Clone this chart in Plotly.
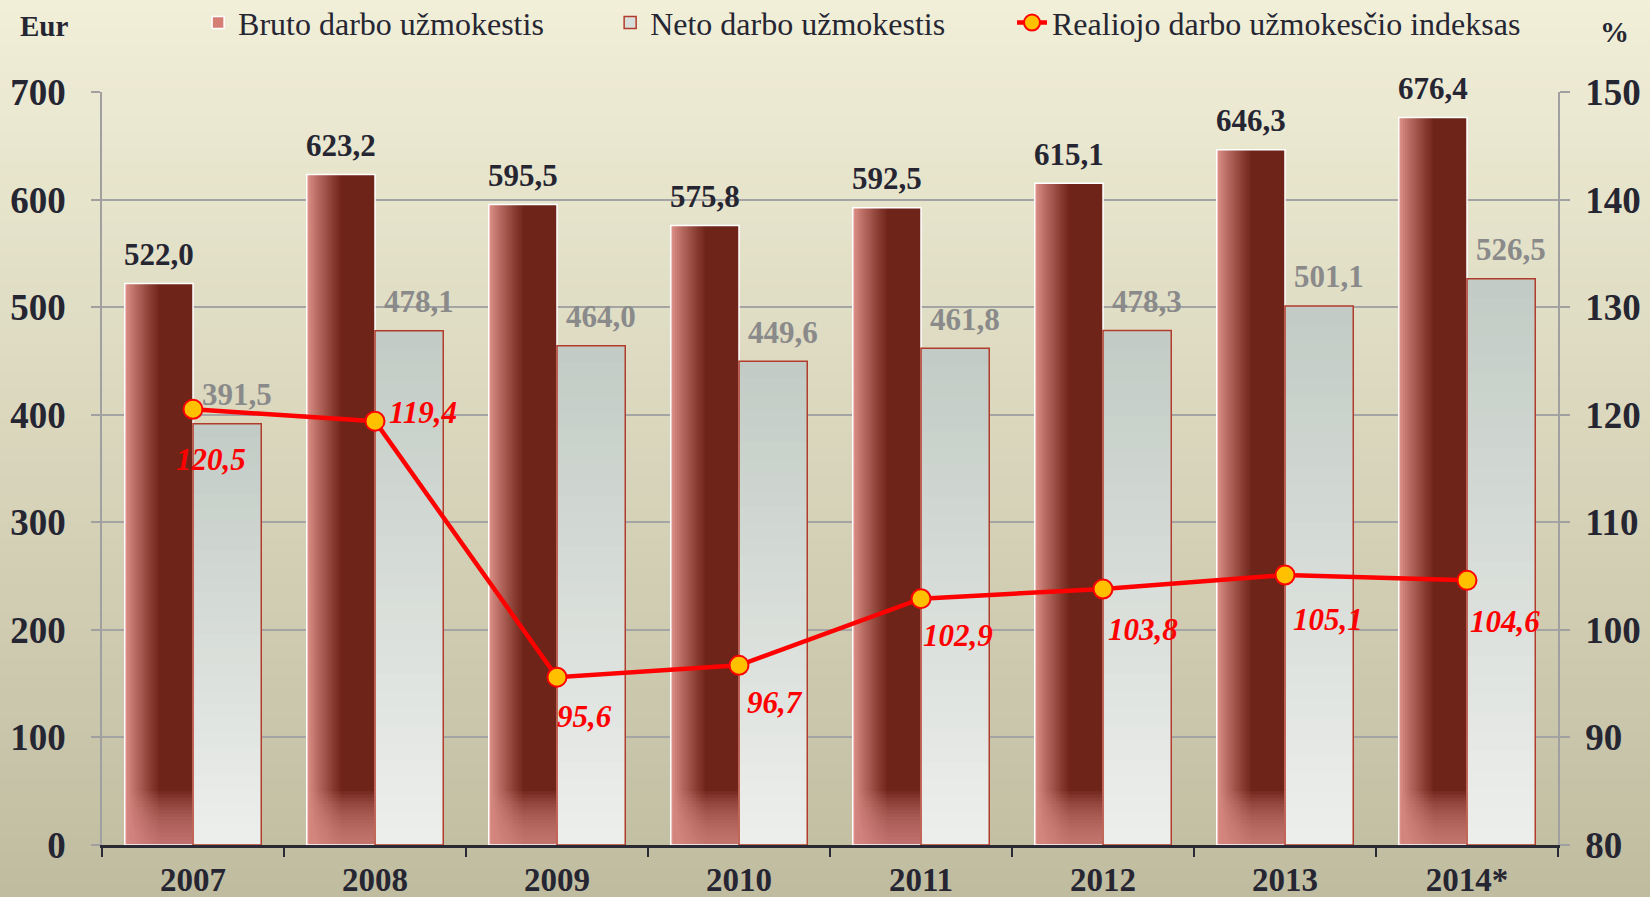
import plotly.graph_objects as go
import numpy as np

# ---------------- data ----------------
years = ['2007', '2008', '2009', '2010', '2011', '2012', '2013', '2014*']
bruto = [522.0, 623.2, 595.5, 575.8, 592.5, 615.1, 646.3, 676.4]
neto = [391.5, 478.1, 464.0, 449.6, 461.8, 478.3, 501.1, 526.5]
index_real = [120.5, 119.4, 95.6, 96.7, 102.9, 103.8, 105.1, 104.6]
left_ticks = [0, 100, 200, 300, 400, 500, 600, 700]
right_ticks = [80, 90, 100, 110, 120, 130, 140, 150]

series_names = ['Bruto darbo užmokestis', 'Neto darbo užmokestis',
                'Realiojo darbo užmokesčio indeksas']

# label offsets for the index labels (pixels, style only)
idx_label_dx = [18, 48, 27, 36, 37, 40, 43, 38]
idx_label_dy = [-50, 9, -39, -37, -37, -41, -44, -41]


def fmt(v):
    return f"{v:.1f}".replace('.', ',')


def hex2rgb(h):
    h = h.lstrip('#')
    return np.array([int(h[i:i + 2], 16) for i in (0, 2, 4)], dtype=float)


def lerp(c1, c2, t):
    a, b = hex2rgb(c1), hex2rgb(c2)
    c = a + (b - a) * t
    return 'rgb(%d,%d,%d)' % tuple(np.round(c))


FONT = 'Liberation Serif'
DARK = '#262633'
PINK = '#DE9088'
BROWN = '#6E2418'
NETO_TOP = '#C2CBC5'
NETO_BOT = '#EDEFEC'
NETO_EDGE = '#B23C2C'
BW = 0.375

fig = go.Figure()

# ---- Bruto bars: horizontal gradient built from overlaid bars ----
fig.add_bar(x=years, y=bruto, offset=-BW, width=BW,
            marker=dict(color=PINK, line=dict(width=0)),
            showlegend=False, hoverinfo='skip')
N = 16
for i in range(1, N + 1):
    frac = i / N
    start = -BW + frac * 0.5 * BW
    fig.add_bar(x=years, y=bruto, offset=start, width=-start,
                marker=dict(color=lerp(PINK, BROWN, frac ** 0.85), line=dict(width=0)),
                showlegend=False, hoverinfo='skip')
# bottom fade
for h in range(50, 0, -3):
    fig.add_bar(x=years, y=[float(min(v, h)) for v in bruto], offset=-BW, width=BW,
                marker=dict(color=PINK, line=dict(width=0)), opacity=0.085,
                showlegend=False, hoverinfo='skip')
fig.add_bar(x=years, y=bruto, offset=-BW, width=BW,
            marker=dict(color='rgba(0,0,0,0)', line=dict(color='white', width=1.5)),
            showlegend=False, hoverinfo='skip')

# ---- Neto bars: vertical gradient ----
fig.add_bar(x=years, y=neto, offset=0, width=BW,
            marker=dict(color=NETO_TOP, line=dict(width=0)),
            showlegend=False, hoverinfo='skip')
NL = 30
for k in range(NL - 1, 0, -1):
    f = k / NL
    fig.add_bar(x=years, y=[v * f for v in neto], offset=0, width=BW,
                marker=dict(color=lerp(NETO_TOP, NETO_BOT, 1 - f + 0.5 / NL), line=dict(width=0)),
                showlegend=False, hoverinfo='skip')
fig.add_bar(x=years, y=neto, offset=0, width=BW,
            marker=dict(color='rgba(0,0,0,0)', line=dict(color=NETO_EDGE, width=1.5)),
            showlegend=False, hoverinfo='skip')

# ---- legend entries (no visible marks) ----
fig.add_bar(x=[years[0]], y=[None], name=series_names[0], legend='legend',
            marker=dict(color='#D47E74', line=dict(color='white', width=1.5)),
            hoverinfo='skip')
fig.add_bar(x=[years[0]], y=[None], name=series_names[1], legend='legend2',
            marker=dict(color='#D8DEDA', line=dict(color=NETO_EDGE, width=1.5)),
            hoverinfo='skip')

# ---- index line ----
fig.add_trace(go.Scatter(x=years, y=index_real, yaxis='y2', mode='lines+markers',
                         name=series_names[2], legend='legend3',
                         line=dict(color='#FF0000', width=4.5),
                         marker=dict(size=19, color='#FFC000',
                                     line=dict(color='#FF0000', width=2))))

annotations = []
for i, v in enumerate(bruto):
    annotations.append(dict(x=i, y=v, xref='x', yref='y', text=fmt(v), showarrow=False,
                            xshift=-34, yshift=29, yanchor='middle',
                            font=dict(family=FONT, size=31, color=DARK, weight='bold')))
for i, v in enumerate(neto):
    annotations.append(dict(x=i, y=v, xref='x', yref='y', text=fmt(v), showarrow=False,
                            xshift=44, yshift=29, yanchor='middle',
                            font=dict(family=FONT, size=31, color='#8A8A8A', weight='bold')))
for i, (v, dx, dy) in enumerate(zip(index_real, idx_label_dx, idx_label_dy)):
    annotations.append(dict(x=i, y=v, xref='x', yref='y2', text=fmt(v), showarrow=False,
                            xshift=dx, yshift=dy, yanchor='middle', xanchor='center',
                            font=dict(family=FONT, size=31, color='#FF0000',
                                      weight='bold', style='italic')))
annotations.append(dict(x=-0.0398, y=1.0876, xref='paper', yref='paper', text='Eur',
                        showarrow=False, xanchor='center', yanchor='middle',
                        font=dict(family=FONT, size=29, color=DARK, weight='bold')))
annotations.append(dict(x=1.039, y=1.0797, xref='paper', yref='paper', text='%',
                        showarrow=False, xanchor='center', yanchor='middle',
                        font=dict(family=FONT, size=29, color=DARK, weight='bold')))

# ---- background gradient (paper) ----
shapes = []
NS = 60
ytop, ybot = 1.125, -0.072
for i in range(NS):
    y1 = ytop - (ytop - ybot) * i / NS
    y0 = ytop - (ytop - ybot) * (i + 1) / NS
    shapes.append(dict(type='rect', xref='paper', yref='paper', x0=-0.08, x1=1.08,
                       y0=y0, y1=y1 + 0.001, layer='below', line=dict(width=0),
                       fillcolor=lerp('#F1EFD8', '#C0BCA0', (i + 0.5) / NS)))

leg_common = dict(orientation='h', xanchor='left', y=1.092, yanchor='middle',
                  bgcolor='rgba(0,0,0,0)', font=dict(family=FONT, size=32, color=DARK))

fig.update_layout(
    width=1650, height=897,
    margin=dict(l=102, r=92, t=92, b=52, autoexpand=False),
    barmode='overlay',
    paper_bgcolor='#DAD7BD',
    plot_bgcolor='#F2F1DF',
    font=dict(family=FONT, color=DARK),
    showlegend=True,
    legend=dict(x=0.066, **leg_common),
    legend2=dict(x=0.349, **leg_common),
    legend3=dict(x=0.625, **leg_common),
    xaxis=dict(type='category', categoryorder='array', categoryarray=years,
               range=[-0.5, len(years) - 0.5], autorange=False,
               showline=True, linecolor='#2A2A35', linewidth=2.5,
               ticks='outside', tickson='boundaries', ticklen=9, tickwidth=2,
               tickcolor='#2A2A35', showgrid=False, ticklabelstandoff=4, tickangle=0,
               tickfont=dict(family=FONT, size=33, color=DARK, weight='bold')),
    yaxis=dict(range=[0, 700], autorange=False, tickvals=left_ticks,
               ticktext=[str(t) for t in left_ticks],
               showline=True, linecolor='#A0A0A0', linewidth=1.5,
               ticks='outside', ticklen=9, tickcolor='#A0A0A0', tickwidth=1.5,
               showgrid=True, gridcolor='#A4A4A4', gridwidth=1.5, zeroline=False,
               ticklabelstandoff=18,
               tickfont=dict(family=FONT, size=37, color=DARK, weight='bold')),
    yaxis2=dict(range=[80, 150], autorange=False, tickvals=right_ticks,
                ticktext=[str(t) for t in right_ticks],
                overlaying='y', side='right', showline=True, linecolor='#A0A0A0',
                linewidth=1.5, ticks='outside', ticklen=10, tickcolor='#A0A0A0',
                tickwidth=1.5, showgrid=False, zeroline=False, ticklabelstandoff=8,
                tickfont=dict(family=FONT, size=37, color=DARK, weight='bold')),
    annotations=annotations,
    shapes=shapes,
    hovermode=False,
)

fig.write_html('out.html', post_script="document.body.style.margin='0';",
               config={'displayModeBar': False})
